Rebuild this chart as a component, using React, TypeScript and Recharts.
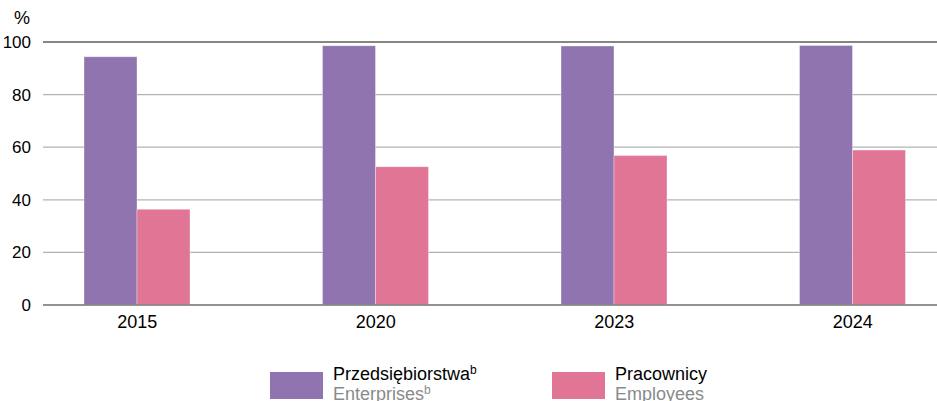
import { BarChart, Bar, XAxis, YAxis, CartesianGrid, ReferenceLine } from 'recharts';

const YEARS = ['2015', '2020', '2023', '2024'];
const ENTERPRISES = [94.4, 98.6, 98.5, 98.7];
const EMPLOYEES = [36.4, 52.6, 56.8, 58.9];
const Y_TICKS = [0, 20, 40, 60, 80, 100];

const PURPLE = '#9074b0';
const PINK = '#e07596';
const FONT = '"Liberation Sans", Arial, sans-serif';

const data = YEARS.map((year, i) => ({
  year,
  enterprises: ENTERPRISES[i],
  employees: EMPLOYEES[i],
}));

const LEGEND_ITEMS = [
  { color: PURPLE, pl: 'Przedsiębiorstwa', en: 'Enterprises', sup: true, left: 270 },
  { color: PINK, pl: 'Pracownicy', en: 'Employees', sup: false, left: 552 },
];

function ChartLegend() {
  return (
    <div style={{ position: 'absolute', left: 0, top: 360, width: 937, height: 41, fontFamily: FONT }}>
      {LEGEND_ITEMS.map((item) => (
        <div key={item.pl} style={{ position: 'absolute', left: item.left, top: 0 }}>
          <div
            style={{
              position: 'absolute',
              left: 0,
              top: 12,
              width: 53,
              height: 27,
              background: item.color,
            }}
          />
          <div
            style={{
              position: 'absolute',
              left: 63,
              top: 4,
              whiteSpace: 'nowrap',
              fontSize: 18,
              lineHeight: '20px',
            }}
          >
            <div style={{ color: '#000' }}>
              {item.pl}
              {item.sup && <sup style={{ fontSize: 12, verticalAlign: 6, lineHeight: 0 }}>b</sup>}
            </div>
            <div style={{ color: '#8a8a8a' }}>
              {item.en}
              {item.sup && <sup style={{ fontSize: 12, verticalAlign: 6, lineHeight: 0 }}>b</sup>}
            </div>
          </div>
        </div>
      ))}
    </div>
  );
}

export default function App() {
  return (
    <div
      style={{
        position: 'absolute',
        left: 0,
        top: 0,
        width: 937,
        height: 401,
        background: '#fff',
        overflow: 'hidden',
        fontFamily: FONT,
      }}
    >
      <span style={{ position: 'absolute', left: 14, top: 8, fontSize: 18, color: '#000' }}>%</span>
      <BarChart
        width={937}
        height={401}
        data={data}
        margin={{ top: 42, right: 0, bottom: 66, left: 0 }}
        barGap={0}
        barSize={53}
      >
        <CartesianGrid vertical={false} stroke="#b3b3b3" strokeWidth={1.3} />
        <ReferenceLine y={100} stroke="#707070" strokeWidth={1.5} />
        <XAxis
          dataKey="year"
          height={30}
          padding={{ left: -25, right: -35 }}
          axisLine={{ stroke: '#808080', strokeWidth: 1.5 }}
          tickLine={false}
          tickMargin={4}
          tick={{ fill: '#000', fontSize: 18, fontFamily: FONT }}
        />
        <YAxis
          width={43}
          domain={[0, 100]}
          ticks={Y_TICKS}
          axisLine={false}
          tickLine={false}
          tickMargin={6}
          tick={{ fill: '#000', fontSize: 17, fontFamily: FONT }}
        />
        <Bar
          dataKey="enterprises"
          fill={PURPLE}
          stroke="#ffffff"
          strokeOpacity={0.35}
          strokeWidth={1}
          isAnimationActive={false}
        />
        <Bar
          dataKey="employees"
          fill={PINK}
          stroke="#ffffff"
          strokeOpacity={0.35}
          strokeWidth={1}
          isAnimationActive={false}
        />
      </BarChart>
      <ChartLegend />
    </div>
  );
}
